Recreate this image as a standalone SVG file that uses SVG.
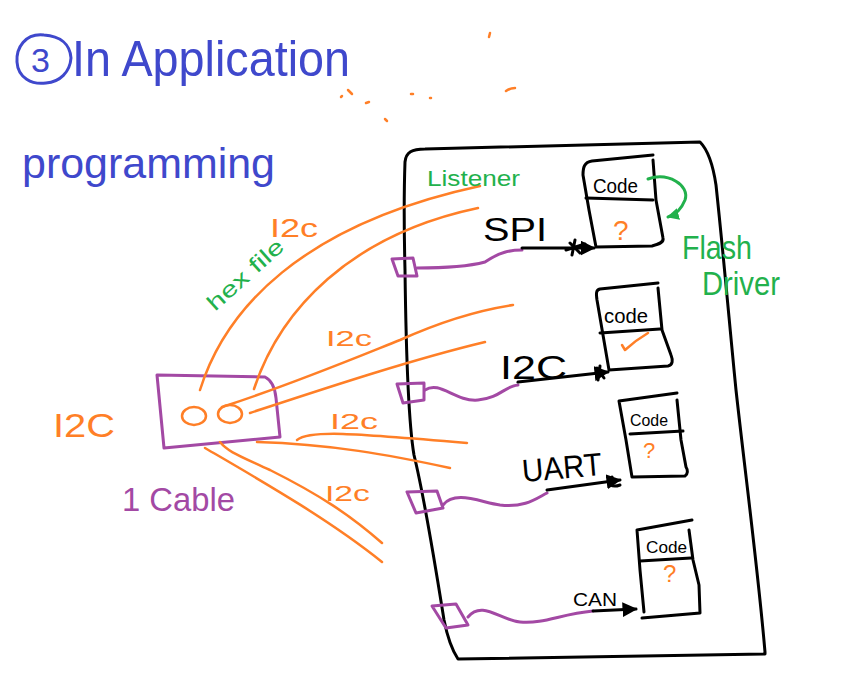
<svg xmlns="http://www.w3.org/2000/svg" width="844" height="677" viewBox="0 0 844 677">
<defs>
<style>
.blk{fill:none;stroke:#000;stroke-width:3;stroke-linecap:round;stroke-linejoin:round}
.pur{fill:none;stroke:#a349a4;stroke-width:3;stroke-linecap:round;stroke-linejoin:round}
.org{fill:none;stroke:#ff7f27;stroke-width:2.5;stroke-linecap:round;stroke-linejoin:round}
.grn{fill:none;stroke:#22b14c;stroke-width:3;stroke-linecap:round}
.t{font-family:"Liberation Sans",Arial,sans-serif}
.tb{fill:#3f48cc}
.tk{fill:#000}
.to{fill:#ff7f27}
.tg{fill:#22b14c}
.tp{fill:#a349a4}
</style>
<marker id="ak" viewBox="0 0 10 10" refX="9" refY="5" markerWidth="5" markerHeight="5" orient="auto" markerUnits="strokeWidth">
<path d="M0,0 L10,5 L0,10 z" fill="#000"/>
</marker>
<marker id="ag" viewBox="0 0 10 10" refX="9" refY="5" markerWidth="4" markerHeight="4" orient="auto" markerUnits="strokeWidth">
<path d="M0,0 L10,5 L0,10 z" fill="#22b14c"/>
</marker>
</defs>
<rect width="844" height="677" fill="#fff"/>

<g id="title">
<path d="M44,35 C25,33 16,48 17,62 C18,78 32,85 46,83 C60,82 70,72 71,58 C70,44 60,36 44,35" fill="none" stroke="#3f48cc" stroke-width="3"/>
<text class="t tb" x="31" y="72" font-size="34">3</text>
<text class="t tb" x="72" y="76" font-size="50" textLength="278" lengthAdjust="spacingAndGlyphs">In Application</text>
<text class="t tb" x="22" y="178" font-size="42" textLength="253" lengthAdjust="spacingAndGlyphs">programming</text>
</g>

<g id="stray-marks" class="org">
<path d="M348,90 L352,94"/>
<path d="M341,97 L342,96"/>
<path d="M366,103 L369,102"/>
<path d="M385,119 L387,121"/>
<path d="M411,94 L413,94"/>
<path d="M490,33 L489,37"/>
<path d="M506,91 Q510,88 515,88"/>
<path d="M430,98 L431,98"/>
</g>

<g id="board">
<path class="blk" d="M405,270 C404,230 404,190 405,162 C406,152 412,149 425,149 L700,142 C708,150 713,165 716,185 C724,260 730,330 736,390 C746,480 758,570 765,652 L765,654 L458,659 C452,650 448,640 444,620 C436,570 425,500 414,455 C408,420 406,350 405,270"/>
</g>

<g id="code-spi">
<path class="blk" d="M653,155 L592,161 C584,162 583,168 583,175 L589,210 L596,247 L652,246 C660,244 664,242 663,238 L656,200 L653,160"/>
<path class="blk" d="M586,198 L653,200"/>
<text class="t tk" x="593" y="193" font-size="20" textLength="45" lengthAdjust="spacingAndGlyphs">Code</text>
<text class="t to" x="613" y="240" font-size="28">?</text>
</g>

<g id="code-i2c">
<path class="blk" d="M658,283 L600,289 C596,290 596,293 597,300 L603,335 L609,370 L668,366 C673,365 673,360 671,355 L662,330 L658,288"/>
<path class="blk" d="M600,333 L660,329"/>
<text class="t tk" x="604" y="323" font-size="20" textLength="44" lengthAdjust="spacingAndGlyphs">code</text>
<path class="org" d="M622,345 L625,350 Q636,340 648,333"/>
</g>

<g id="code-uart">
<path class="blk" d="M677,393 L619,401 L626,440 L632,477 L685,476 C688,474 688,470 686,467 L681,440 L677,400"/>
<path class="blk" d="M630,434 L683,431"/>
<text class="t tk" x="630" y="426" font-size="17" textLength="38" lengthAdjust="spacingAndGlyphs">Code</text>
<text class="t to" x="643" y="458" font-size="22">?</text>
</g>

<g id="code-can">
<path class="blk" d="M692,520 L637,530 L640,570 L644,612 M642,618 L700,613 L699,585 L693,560 L689,530"/>
<path class="blk" d="M640,561 L691,558"/>
<text class="t tk" x="646" y="553" font-size="17" textLength="41" lengthAdjust="spacingAndGlyphs">Code</text>
<text class="t to" x="663" y="582" font-size="24">?</text>
</g>

<g id="device">
<path class="pur" d="M157,375 L265,377 C271,380 275,388 276,398 L280,437 L164,448 Z"/>
<ellipse class="org" cx="194" cy="416" rx="12" ry="9"/>
<ellipse class="org" cx="230" cy="414" rx="12" ry="9"/>
</g>

<g id="ports">
<path class="pur" d="M392,259 L413,258 L417,276 L398,276 Z"/>
<path class="pur" d="M397,384 L424,383 L424,400 L403,403 Z"/>
<path class="pur" d="M407,492 L437,491 L443,508 L416,513 Z"/>
<path class="pur" d="M432,606 L456,604 L468,625 L446,628 Z"/>
</g>

<g id="connectors">
<path class="pur" d="M417,268 C440,268 470,266 485,262 C500,252 510,250 522,250"/>
<path class="blk" d="M522,248 L594,248" marker-end="url(#ak)"/>
<path class="blk" d="M570,243 L580,253 M575,240 L572,255 M566,250 L585,244"/>
<path class="pur" d="M425,390 C440,380 455,402 478,400 C500,398 505,386 518,385"/>
<path class="blk" d="M518,382 L608,372" marker-end="url(#ak)"/>
<path class="blk" d="M597,368 L604,378 M600,366 L598,380"/>
<path class="pur" d="M443,505 C455,490 480,502 500,505 C525,508 537,498 547,493"/>
<path class="blk" d="M547,490 L620,480" marker-end="url(#ak)"/>
<path class="blk" d="M612,477 C606,484 612,488 620,485"/>
<path class="pur" d="M468,617 C482,600 500,620 520,622 C545,624 560,614 593,611"/>
<path class="blk" d="M593,611 L636,609" marker-end="url(#ak)"/>
<path class="grn" d="M648,179 C668,172 690,185 685,200 C681,210 675,215 668,217" marker-end="url(#ag)"/>

<path class="org" d="M200,390 C225,310 300,225 480,186"/>
<path class="org" d="M254,389 C280,310 350,235 478,208"/>
<path class="org" d="M222,407 C290,385 350,360 400,340 C440,322 480,310 513,305"/>
<path class="org" d="M250,413 C320,390 410,360 485,342"/>
<path class="org" d="M297,440 C310,430 350,433 467,443"/>
<path class="org" d="M257,442 C330,444 390,455 450,468"/>
<path class="org" d="M220,442 C228,452 240,456 270,470 C320,495 350,515 382,543"/>
<path class="org" d="M205,448 C260,480 330,520 382,562"/>
</g>

<g id="labels">
<text class="t tk" x="483" y="241" font-size="34" textLength="64" lengthAdjust="spacingAndGlyphs">SPI</text>
<text class="t tk" x="500" y="379" font-size="34" textLength="67" lengthAdjust="spacingAndGlyphs">I2C</text>
<text class="t tk" x="523" y="482" font-size="32" textLength="80" lengthAdjust="spacingAndGlyphs" transform="rotate(-5 523 482)">UART</text>
<text class="t tk" x="573" y="606" font-size="18" textLength="44" lengthAdjust="spacingAndGlyphs">CAN</text>
<text class="t tg" x="427" y="186" font-size="22" textLength="93" lengthAdjust="spacingAndGlyphs">Listener</text>
<text class="t tg" x="682" y="259" font-size="34" textLength="70" lengthAdjust="spacingAndGlyphs">Flash</text>
<text class="t tg" x="702" y="295" font-size="34" textLength="78" lengthAdjust="spacingAndGlyphs">Driver</text>
<text class="t tg" x="215" y="312" font-size="22" textLength="95" lengthAdjust="spacingAndGlyphs" transform="rotate(-42 215 312)">hex file</text>
<text class="t to" x="270" y="237" font-size="26" textLength="48" lengthAdjust="spacingAndGlyphs">I2c</text>
<text class="t to" x="326" y="346" font-size="22" textLength="46" lengthAdjust="spacingAndGlyphs">I2c</text>
<text class="t to" x="330" y="429" font-size="22" textLength="48" lengthAdjust="spacingAndGlyphs">I2c</text>
<text class="t to" x="325" y="501" font-size="22" textLength="45" lengthAdjust="spacingAndGlyphs">I2c</text>
<text class="t to" x="53" y="437" font-size="34" textLength="62" lengthAdjust="spacingAndGlyphs">I2C</text>
<text class="t tp" x="122" y="511" font-size="34" textLength="113" lengthAdjust="spacingAndGlyphs">1 Cable</text>
</g>
</svg>
